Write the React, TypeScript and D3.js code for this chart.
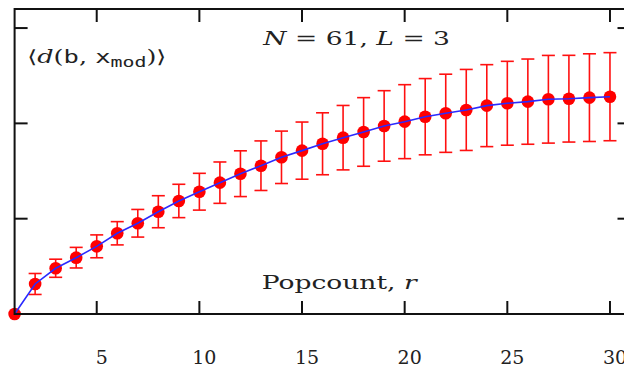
import React from "react";
import * as d3 from "d3";

// Mean distance between the binary target and its modified pattern versus popcount
const popcount = [1, 2, 3, 4, 5, 6, 7, 8, 9, 10, 11, 12, 13, 14, 15, 16, 17, 18, 19, 20, 21, 22, 23, 24, 25, 26, 27, 28, 29, 30];
const meanDistance = [0, 3.15, 4.8, 5.91, 7.1, 8.47, 9.52, 10.73, 11.86, 12.83, 13.78, 14.72, 15.56, 16.44, 17.14, 17.86, 18.5, 19.1, 19.73, 20.18, 20.7, 21.06, 21.41, 21.86, 22.11, 22.28, 22.53, 22.59, 22.7, 22.8];
const stdDev = [0, 1.1, 0.95, 1.08, 1.2, 1.22, 1.45, 1.68, 1.75, 1.93, 2.17, 2.4, 2.6, 2.75, 3.0, 3.25, 3.38, 3.6, 3.7, 3.88, 4.0, 4.1, 4.25, 4.3, 4.4, 4.47, 4.6, 4.55, 4.6, 4.62];
const xTicks = [5, 10, 15, 20, 25, 30];
const yTicks = [10, 20, 30];

const W = 624;
const H = 369;
const left = 14.6;
const right = 630.5;
const top = 9;
const bottom = 314;
const tickLen = 13;
const font = "'DejaVu Serif', serif";

export default function App() {
  const x = d3.scaleLinear().domain([1, 31]).range([left, right]);
  const y = d3.scaleLinear().domain([0, 32]).range([bottom, top]);
  const pts = popcount.map((r, i) => ({ r, m: meanDistance[i], s: stdDev[i] }));
  const line = d3
    .line<{ r: number; m: number }>()
    .x((d) => x(d.r))
    .y((d) => y(d.m));
  const cap = 6.5;

  return (
    <svg
      width={W}
      height={H}
      style={{ position: "absolute", left: 0, top: 0, background: "#fff" }}
    >
      {/* error bars */}
      <g stroke="#ff1010" strokeWidth={1.6} fill="none">
        {pts
          .filter((d) => d.s > 0)
          .map((d) => {
            const cx = x(d.r);
            const y1 = y(d.m + d.s);
            const y2 = y(d.m - d.s);
            return (
              <g key={d.r}>
                <line x1={cx} x2={cx} y1={y1} y2={y2} />
                <line x1={cx - cap} x2={cx + cap} y1={y1} y2={y1} />
                <line x1={cx - cap} x2={cx + cap} y1={y2} y2={y2} />
              </g>
            );
          })}
      </g>
      {/* markers */}
      <g fill="#ff0000">
        {pts.map((d) => (
          <circle key={d.r} cx={x(d.r)} cy={y(d.m)} r={6.3} />
        ))}
      </g>
      {/* connecting curve */}
      <path d={line(pts) ?? ""} fill="none" stroke="#2a2aff" strokeWidth={1.6} />

      {/* frame and inward ticks */}
      <g stroke="#111" strokeWidth={2} fill="none">
        <rect x={left} y={top} width={right - left} height={bottom - top} />
        {xTicks.map((t) => (
          <g key={t}>
            <line x1={x(t)} x2={x(t)} y1={bottom} y2={bottom - tickLen} />
            <line x1={x(t)} x2={x(t)} y1={top} y2={top + tickLen} />
          </g>
        ))}
        {yTicks.map((t) => (
          <g key={t}>
            <line x1={left} x2={left + tickLen} y1={y(t)} y2={y(t)} />
            <line x1={right} x2={right - tickLen} y1={y(t)} y2={y(t)} />
          </g>
        ))}
      </g>

      {/* x tick labels */}
      <g fontFamily={font} fontSize={19} fill="#222" textAnchor="middle">
        {xTicks.map((t) => (
          <text key={t} x={x(t) + 5} y={364}>
            {t}
          </text>
        ))}
      </g>

      {/* axis label */}
      <text
        x={261.7}
        y={289}
        fontFamily={font}
        fontSize={18}
        fill="#222"
        textLength={155}
        lengthAdjust="spacingAndGlyphs"
      >
        Popcount, <tspan fontStyle="italic">r</tspan>
      </text>

      {/* parameters */}
      <text
        x={263.3}
        y={44.5}
        fontFamily={font}
        fontSize={19}
        fill="#222"
        textLength={186.7}
        lengthAdjust="spacingAndGlyphs"
      >
        <tspan fontStyle="italic">N</tspan> = 61, <tspan fontStyle="italic">L</tspan> = 3
      </text>

      {/* quantity label */}
      <text
        x={27.3}
        y={63}
        fontFamily={font}
        fontSize={18}
        fill="#222"
        textLength={139}
        lengthAdjust="spacingAndGlyphs"
      >
        ⟨<tspan fontStyle="italic">d</tspan>(<tspan fontFamily="'DejaVu Sans Mono', monospace">b</tspan>, <tspan fontFamily="'DejaVu Sans Mono', monospace">x</tspan>
        <tspan fontFamily="'DejaVu Sans Mono', monospace" fontSize={14} dy={4}>mod</tspan>
        <tspan dy={-4}>)⟩</tspan>
      </text>
    </svg>
  );
}
